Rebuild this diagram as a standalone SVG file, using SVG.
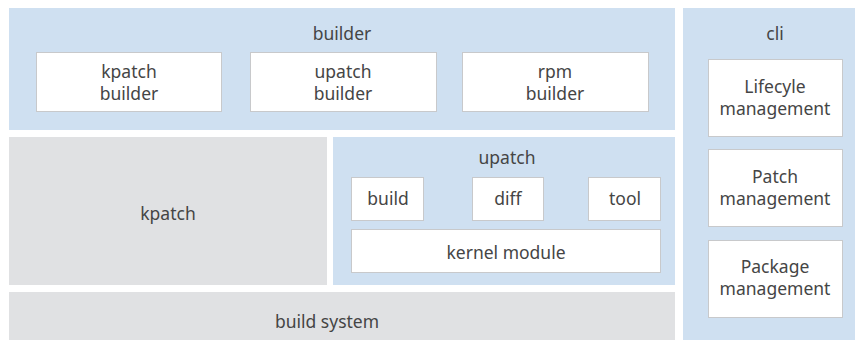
<svg xmlns="http://www.w3.org/2000/svg" width="855" height="340" viewBox="0 0 855 340">
<style>
.blue{fill:#cfe0f1}
.gray{fill:#e0e1e3}
.box{fill:#ffffff;stroke:#c8c9cb;stroke-width:1}
text{font-family:"Noto Sans","Open Sans",sans-serif;font-size:17.5px;fill:#454545;text-anchor:middle}
</style>
<rect width="855" height="340" fill="#ffffff"/>
<g id="builder">
<rect class="blue" x="9" y="8" width="666" height="122"/>
<text x="342" y="40">builder</text>
</g>
<g id="kpatch-builder">
<rect class="box" x="36.5" y="52.5" width="185" height="59"/>
<text x="129" y="78">kpatch</text>
<text x="129" y="100">builder</text>
</g>
<g id="upatch-builder">
<rect class="box" x="250.5" y="52.5" width="186" height="59"/>
<text x="343" y="78">upatch</text>
<text x="343" y="100">builder</text>
</g>
<g id="rpm-builder">
<rect class="box" x="462.5" y="52.5" width="186" height="59"/>
<text x="555" y="78">rpm</text>
<text x="555" y="100">builder</text>
</g>
<g id="cli">
<rect class="blue" x="683" y="8" width="172" height="332"/>
<text x="775" y="40">cli</text>
</g>
<g id="lifecycle">
<rect class="box" x="708.5" y="59.5" width="134" height="77"/>
<text x="775" y="93">Lifecyle</text>
<text x="775" y="115">management</text>
</g>
<g id="patch">
<rect class="box" x="708.5" y="149.5" width="134" height="77"/>
<text x="775" y="183">Patch</text>
<text x="775" y="205">management</text>
</g>
<g id="package">
<rect class="box" x="708.5" y="240.5" width="134" height="77"/>
<text x="775" y="273">Package</text>
<text x="775" y="295">management</text>
</g>
<g id="kpatch">
<rect class="gray" x="9" y="137" width="318" height="148"/>
<text x="168" y="220">kpatch</text>
</g>
<g id="upatch">
<rect class="blue" x="333" y="137" width="342" height="148"/>
<text x="507" y="164">upatch</text>
</g>
<g id="build">
<rect class="box" x="351.5" y="177.5" width="72" height="43"/>
<text x="388" y="205">build</text>
</g>
<g id="diff">
<rect class="box" x="472.5" y="177.5" width="71" height="43"/>
<text x="508" y="205">diff</text>
</g>
<g id="tool">
<rect class="box" x="588.5" y="177.5" width="72" height="43"/>
<text x="625" y="205">tool</text>
</g>
<g id="kernel-module">
<rect class="box" x="351.5" y="229.5" width="309" height="43"/>
<text x="506" y="259">kernel module</text>
</g>
<g id="build-system">
<rect class="gray" x="9" y="292" width="666" height="48"/>
<text x="327" y="328">build system</text>
</g>
<g id="connectors"></g>
</svg>
